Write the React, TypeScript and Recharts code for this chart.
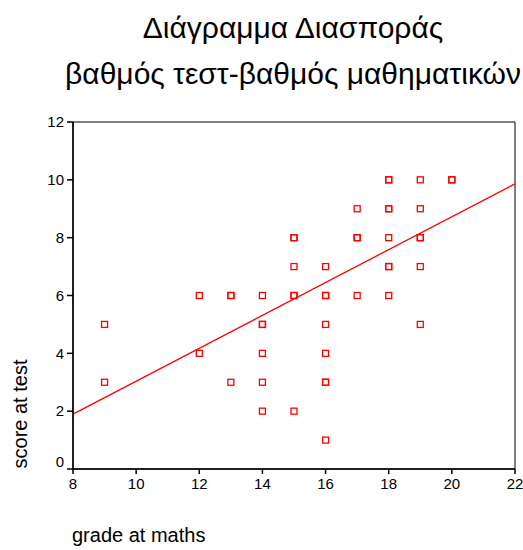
import {
  ScatterChart,
  Scatter,
  XAxis,
  YAxis,
  ReferenceLine,
  ReferenceArea,
} from 'recharts';

// grade at maths / score at test (repeats = overlapping marks)
const grades = [
  9, 9, 12, 12, 13, 13, 13, 14, 14, 14, 14, 14, 14, 15, 15, 15, 15, 15, 15, 16, 16, 16, 16, 16, 16, 16, 16,
  17, 17, 17, 17, 18, 18, 18, 18, 18, 18, 18, 18, 19, 19, 19, 19, 19, 19, 20, 20,
];
const scores = [
  5, 3, 6, 4, 6, 6, 3, 6, 5, 5, 4, 3, 2, 8, 8, 7, 6, 6, 2, 7, 6, 6, 5, 4, 3, 3, 1,
  9, 8, 8, 6, 10, 10, 9, 9, 8, 7, 7, 6, 10, 9, 8, 8, 7, 5, 10, 10,
];

const xTicks = [8, 10, 12, 14, 16, 18, 20, 22];
const yTicks = [0, 2, 4, 6, 8, 10, 12];

// fitted line as it appears (value at x = 8 and x = 22)
const fitX = [8, 22];
const fitY = [1.9, 9.86];

const points = grades.map((g, i) => ({ grade: g, score: scores[i] }));

const font = '"Liberation Sans", Arial, sans-serif';

const SquareMark = (props: any) => {
  const { cx, cy } = props;
  if (cx == null || cy == null) return null;
  return (
    <rect x={cx - 3} y={cy - 3} width={6} height={6} fill="none" stroke="#ff0000" strokeWidth={1.3} />
  );
};

// the bottom label sits a bit above its tick, clear of the x axis
const YTick = (props: any) => {
  const { x, y, payload } = props;
  const dy = payload.value === 0 ? -7 : 0;
  return (
    <text x={x} y={y + dy} dy="0.355em" textAnchor="end" fill="#000" fontSize={15} fontFamily={font}>
      {payload.value}
    </text>
  );
};

const titleStyle = {
  position: 'absolute' as const,
  left: 0,
  width: 523,
  textAlign: 'center' as const,
  fontSize: 30,
  lineHeight: '30px',
  paddingLeft: 63,
  boxSizing: 'border-box' as const,
  whiteSpace: 'nowrap' as const,
};

const App = () => {
  return (
    <div style={{ position: 'absolute', left: 0, top: 0, width: 523, height: 550, background: '#fff', fontFamily: font }}>
      <div style={{ ...titleStyle, top: 13 }}>Διάγραμμα Διασποράς</div>
      <div style={{ ...titleStyle, top: 59 }}>βαθμός τεστ-βαθμός μαθηματικών</div>
      <div
        style={{
          position: 'absolute',
          left: 20,
          top: 414,
          fontSize: 20,
          whiteSpace: 'nowrap',
          transform: 'translate(-50%, -50%) rotate(-90deg)',
        }}
      >
        score at test
      </div>
      <div style={{ position: 'absolute', left: 72, top: 524, fontSize: 20, whiteSpace: 'nowrap' }}>
        grade at maths
      </div>
      <div style={{ position: 'absolute', left: 0, top: 0 }}>
        <ScatterChart width={523} height={550} margin={{ top: 122, right: 8, bottom: 41, left: 33 }}>
          <XAxis
            type="number"
            dataKey="grade"
            domain={[8, 22]}
            ticks={xTicks}
            height={40}
            tickSize={5}
            tickMargin={4}
            stroke="#000"
            strokeWidth={1.5}
            tick={{ fill: '#000', fontSize: 15, fontFamily: font }}
          />
          <YAxis
            type="number"
            dataKey="score"
            domain={[0, 12]}
            ticks={yTicks}
            width={40}
            tickSize={6}
            tickMargin={3}
            stroke="#000"
            strokeWidth={1.5}
            tick={<YTick />}
          />
          <ReferenceArea x1={8} x2={22} y1={0} y2={12} fill="none" stroke="#000" strokeWidth={1} />
          <ReferenceLine
            segment={[
              { x: fitX[0], y: fitY[0] },
              { x: fitX[1], y: fitY[1] },
            ]}
            stroke="#ff0000"
            strokeWidth={1.3}
          />
          <Scatter data={points} shape={SquareMark} isAnimationActive={false} />
        </ScatterChart>
      </div>
    </div>
  );
};

export default App;
